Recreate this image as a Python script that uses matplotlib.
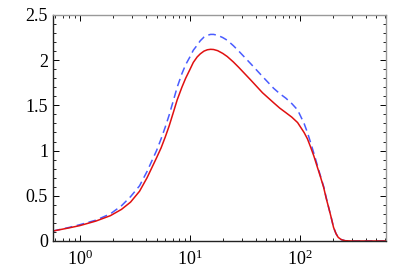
import matplotlib
matplotlib.use('Agg')
import matplotlib.pyplot as plt
from matplotlib.ticker import FuncFormatter, MultipleLocator, LogLocator

# values
x_vals = [0.57, 0.8, 1.0, 1.4, 1.9, 2.4, 2.9, 3.5, 4.1, 5.0, 5.5, 6.0, 6.5,
          7.1, 7.7, 8.5, 9.2, 10, 10.8, 11.7, 12.5, 13.5, 14.5, 15.5, 16.5,
          18, 20, 22, 25, 28, 36, 46, 58, 66, 75, 85, 96, 110, 118, 126, 135,
          145, 155, 166, 175, 185, 195, 204, 215, 225, 240, 260, 300, 610]
red_vals = [0.11, 0.145, 0.17, 0.22, 0.28, 0.35, 0.43, 0.55, 0.70, 0.92, 1.03,
            1.15, 1.27, 1.42, 1.56, 1.70, 1.80, 1.89, 1.975, 2.035, 2.07, 2.10,
            2.115, 2.12, 2.118, 2.105, 2.075, 2.04, 1.98, 1.92, 1.78, 1.64,
            1.53, 1.47, 1.42, 1.37, 1.31, 1.20, 1.13, 1.04, 0.94, 0.82, 0.71,
            0.59, 0.47, 0.36, 0.25, 0.15, 0.08, 0.04, 0.015, 0.003, 0.0, 0.0]
blue_vals = [0.11, 0.15, 0.18, 0.23, 0.30, 0.39, 0.49, 0.61, 0.77, 1.00, 1.13,
             1.26, 1.39, 1.55, 1.70, 1.85, 1.95, 2.03, 2.11, 2.165, 2.215,
             2.255, 2.275, 2.285, 2.285, 2.275, 2.25, 2.22, 2.16, 2.10, 1.96,
             1.82, 1.69, 1.63, 1.58, 1.52, 1.45, 1.30, 1.20, 1.09, 0.97, 0.84,
             0.72, 0.60, 0.48, 0.36, 0.25, 0.15, 0.08, 0.04, 0.015, 0.003,
             0.0, 0.0]

plt.rcParams['font.family'] = ['Liberation Serif', 'DejaVu Serif']
plt.rcParams['mathtext.fontset'] = 'stix'

fig = plt.figure(figsize=(4.07, 2.72), dpi=100)
ax = fig.add_axes([0.130, 0.114, 0.818, 0.831])

ax.plot(x_vals, blue_vals, color='#4a5cff', lw=1.1, ls=(0, (5, 3)))
ax.plot(x_vals, red_vals, color='#e01010', lw=1.1)

ax.set_xscale('log')
ax.set_xlim(0.57, 610)
ax.set_ylim(0, 2.5)

ax.yaxis.set_major_locator(MultipleLocator(0.5))
ax.yaxis.set_minor_locator(MultipleLocator(0.1))
ax.yaxis.set_major_formatter(FuncFormatter(lambda v, p: '%g' % v))
ax.xaxis.set_major_locator(LogLocator(base=10))
ax.xaxis.set_minor_locator(LogLocator(base=10, subs=range(2, 10)))

ax.tick_params(which='both', direction='in', top=True, right=True, labelsize=13)
ax.tick_params(which='major', length=4, width=0.7)
ax.tick_params(which='minor', length=2, width=0.6)
ax.tick_params(axis='x', which='major', pad=6)

for side in ['top', 'right']:
    ax.spines[side].set_color('#999999')
for side in ['left', 'bottom']:
    ax.spines[side].set_color('#222222')
for sp in ax.spines.values():
    sp.set_linewidth(1.0)

fig.savefig('out.png', dpi=100)
